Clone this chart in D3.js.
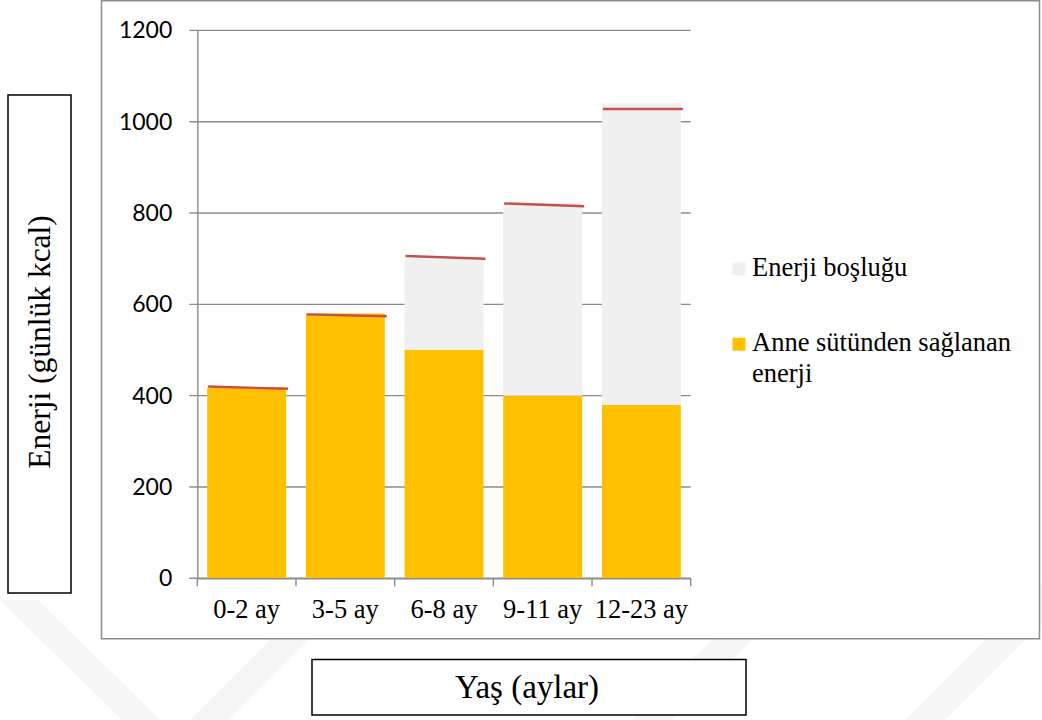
<!DOCTYPE html>
<html>
<head>
<meta charset="utf-8">
<script src="https://cdn.jsdelivr.net/npm/d3@7"></script>
<style>
  html, body { margin: 0; padding: 0; background: #ffffff; }
  svg { display: block; }
</style>
</head>
<body>
<svg id="chart" width="1042" height="720"></svg>
<script>
// Age groups on the x axis
const categories = ["0-2 ay", "3-5 ay", "6-8 ay", "9-11 ay", "12-23 ay"];
// Energy supplied by breast milk (kcal/day)
const breastMilkEnergy = [418, 580, 500, 400, 380];
// Energy gap to be covered by complementary foods (kcal/day)
const energyGap = [0, 0, 200, 422, 660];
// Total energy need marker, value at the left and right end of each marker line
const needStart = [420, 578, 706, 821, 1028];
const needEnd = [415, 574, 700, 815, 1028];
// Y axis ticks
const yTicks = [0, 200, 400, 600, 800, 1000, 1200];

const seriesKeys = ["milk", "gap"];
const colors = { milk: "#FFC000", gap: "#F0F0F0" };

const svg = d3.select("#chart");
const serif = "'Liberation Serif', 'Times New Roman', serif";
const sans = "Lato, 'Open Sans', sans-serif";

// Faint diagonal watermark bands behind the chart
const watermark = [
  [[0, 600], [38, 600], [160, 720], [122, 720]],
  [[190, 720], [228, 720], [330, 618], [292, 618]],
  [[632, 720], [672, 720], [780, 612], [740, 612]],
  [[905, 720], [945, 720], [1042, 623], [1042, 583]]
];
svg.append("g").selectAll("polygon").data(watermark).join("polygon")
  .attr("points", d => d.map(p => p.join(",")).join(" "))
  .attr("fill", "#f6f6f6");

// Chart frame
svg.append("rect")
  .attr("x", 101.5).attr("y", 0.75).attr("width", 938).attr("height", 638)
  .attr("fill", "#ffffff").attr("stroke", "#8c8c8c").attr("stroke-width", 1.5);

const plotLeft = 197.3, plotRight = 690.7, plotTop = 30.4, plotBottom = 578.3;

const x = d3.scaleBand().domain(categories)
  .range([plotLeft, plotRight]).paddingInner(0.2).paddingOuter(0.1);
const y = d3.scaleLinear().domain([0, 1200]).range([plotBottom, plotTop]);

// Horizontal gridlines (extend left of the axis as tick marks)
svg.append("g").selectAll("line").data(yTicks).join("line")
  .attr("x1", plotLeft - 8).attr("x2", plotRight)
  .attr("y1", d => y(d)).attr("y2", d => y(d))
  .attr("stroke", "#8c8c8c").attr("stroke-width", 1.4);

// Y axis with labels
const yAxis = svg.append("g").attr("transform", `translate(${plotLeft},0)`)
  .call(d3.axisLeft(y).tickValues(yTicks).tickSize(0).tickPadding(25).tickFormat(d3.format("d")));
yAxis.select(".domain").attr("stroke", "#8c8c8c").attr("stroke-width", 1.4);
yAxis.selectAll("text").attr("font-family", sans).attr("font-size", 23).attr("fill", "#000");

// Stacked bars
const rows = categories.map((c, i) => ({ cat: c, milk: breastMilkEnergy[i], gap: energyGap[i] }));
const stacked = d3.stack().keys(seriesKeys)(rows);
svg.append("g").selectAll("g").data(stacked).join("g")
  .attr("fill", d => colors[d.key])
  .selectAll("rect").data(d => d).join("rect")
  .attr("x", d => x(d.data.cat))
  .attr("y", d => y(d[1]))
  .attr("width", x.bandwidth())
  .attr("height", d => y(d[0]) - y(d[1]));

// X axis line and category boundary ticks
const xAxis = svg.append("g").attr("transform", `translate(0,${plotBottom})`)
  .call(d3.axisBottom(x).tickSize(0).tickPadding(0).tickFormat(""));
xAxis.select(".domain").attr("stroke", "#8c8c8c").attr("stroke-width", 1.4);
const boundaries = d3.range(categories.length + 1).map(i => plotLeft + i * x.step());
xAxis.selectAll(".bound").data(boundaries).join("line").attr("class", "bound")
  .attr("x1", d => d).attr("x2", d => d).attr("y1", 0).attr("y2", 8)
  .attr("stroke", "#8c8c8c").attr("stroke-width", 1.4);
svg.append("g").selectAll("text").data(categories).join("text")
  .attr("x", d => x(d) + x.bandwidth() / 2).attr("y", 618)
  .attr("text-anchor", "middle")
  .attr("font-family", serif).attr("font-size", 26.5).attr("fill", "#000")
  .text(d => d);

// Total energy need markers
svg.append("g").selectAll("line").data(categories).join("line")
  .attr("x1", d => x(d) + 1).attr("x2", d => x(d) + x.bandwidth() + 2)
  .attr("y1", (d, i) => y(needStart[i])).attr("y2", (d, i) => y(needEnd[i]))
  .attr("stroke", "#C4504E").attr("stroke-width", 2.4).attr("stroke-linecap", "butt");

// Legend
const legend = svg.append("g");
const legendItems = [
  { key: "gap", top: 262.3, lines: ["Enerji boşluğu"], base: 276 },
  { key: "milk", top: 337.7, lines: ["Anne sütünden sağlanan", "enerji"], base: 350.5 }
];
legendItems.forEach(it => {
  legend.append("rect").attr("x", 732.5).attr("y", it.top).attr("width", 13).attr("height", 13)
    .attr("fill", colors[it.key]);
  const t = legend.append("text").attr("font-family", serif).attr("font-size", 26.5).attr("fill", "#000");
  it.lines.forEach((ln, j) => t.append("tspan").attr("x", 752).attr("y", it.base + j * 31.5).text(ln));
});

// Y axis title box
svg.append("rect").attr("x", 8).attr("y", 95).attr("width", 63).attr("height", 498)
  .attr("fill", "#fff").attr("stroke", "#000").attr("stroke-width", 1.5);
svg.append("text")
  .attr("transform", "translate(50,342) rotate(-90)")
  .attr("text-anchor", "middle")
  .attr("font-family", serif).attr("font-size", 31.5).attr("fill", "#000")
  .text("Enerji (günlük kcal)");

// X axis title box
svg.append("rect").attr("x", 312).attr("y", 659.5).attr("width", 434).attr("height", 55.5)
  .attr("fill", "#fff").attr("stroke", "#000").attr("stroke-width", 1.5);
svg.append("text")
  .attr("x", 527).attr("y", 698)
  .attr("text-anchor", "middle")
  .attr("font-family", serif).attr("font-size", 33).attr("fill", "#000")
  .text("Yaş (aylar)");
</script>
</body>
</html>
